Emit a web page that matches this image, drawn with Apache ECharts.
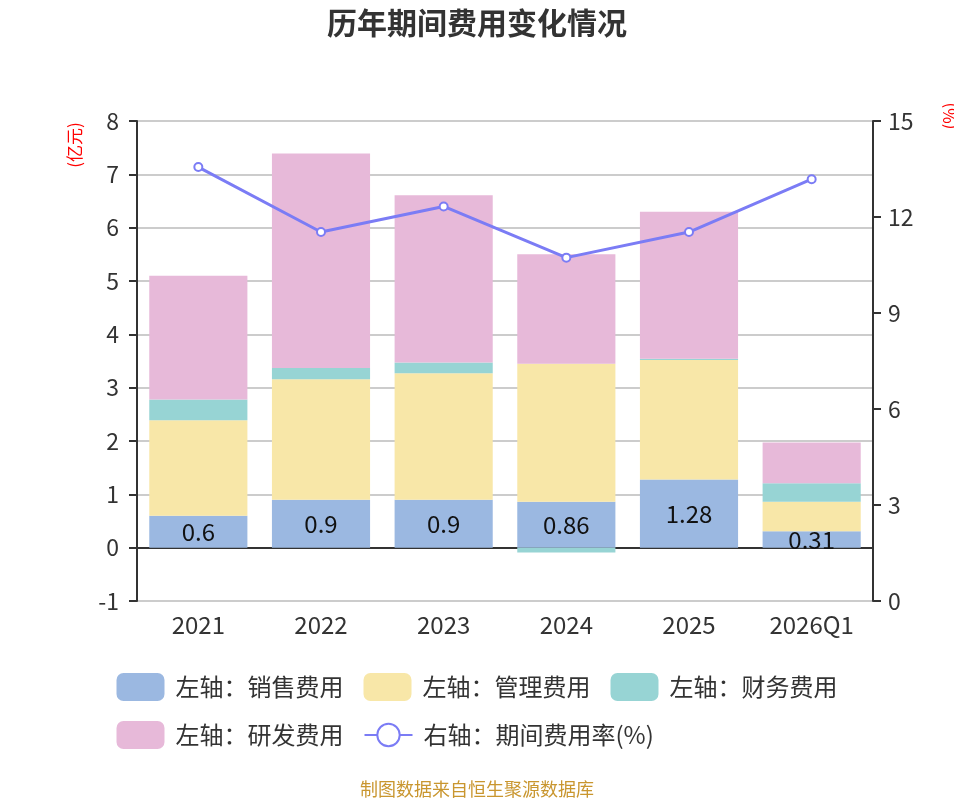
<!DOCTYPE html>
<html>
<head>
<meta charset="utf-8">
<style>
  html, body { margin: 0; padding: 0; background: #fff; }
  #main { width: 954px; height: 800px; }
</style>
<script src="https://cdn.jsdelivr.net/npm/echarts@6/dist/echarts.min.js"></script>
</head>
<body>
<div id="main"></div>
<script>
// 历年期间费用
var categories = ['2021', '2022', '2023', '2024', '2025', '2026Q1'];
var salesCost = [0.6, 0.9, 0.9, 0.86, 1.28, 0.31];
var manageCost = [1.79, 2.26, 2.37, 2.59, 2.24, 0.55];
var financeCost = [0.39, 0.21, 0.2, -0.09, 0.02, 0.35];
var rdCost = [2.32, 4.02, 3.14, 2.05, 2.76, 0.76];
var expenseRate = [13.56, 11.53, 12.33, 10.73, 11.53, 13.18];

var font = "'Noto Sans CJK SC', 'Noto Sans', sans-serif";
var colors = ['#9BB8E1', '#F8E7A8', '#97D4D4', '#E7B9D9', '#7B7CF5'];

var myChart = echarts.init(document.getElementById('main'));

function barSeries(name, data, idx) {
  return {
    name: name,
    type: 'bar',
    stack: 'cost',
    yAxisIndex: 0,
    barWidth: '80%',
    itemStyle: { color: colors[idx] },
    data: data
  };
}

var sales = barSeries('左轴：销售费用', salesCost, 0);
sales.label = {
  show: true,
  position: 'inside',
  color: '#111',
  fontSize: 24,
  fontFamily: font
};

myChart.setOption({
  animation: false,
  textStyle: { fontFamily: font },
  title: {
    text: '历年期间费用变化情况',
    left: 'center',
    top: 3,
    textStyle: { fontSize: 30, fontWeight: 'bold', color: '#333', fontFamily: font }
  },
  legend: {
    top: 668,
    left: 'center',
    width: 740,
    itemWidth: 48,
    itemHeight: 28,
    itemGap: 20,
    textStyle: { fontSize: 24, color: '#333', fontFamily: font, padding: [0, 0, 0, 6] },
    data: ['左轴：销售费用', '左轴：管理费用', '左轴：财务费用', '左轴：研发费用', '右轴：期间费用率(%)']
  },
  grid: { left: 137, right: 81, top: 121, bottom: 199 },
  xAxis: {
    type: 'category',
    data: categories,
    axisLine: { onZero: true, lineStyle: { color: '#333', width: 2 } },
    axisTick: { length: 8, lineStyle: { color: '#333', width: 2 } },
    axisLabel: { margin: 12, fontSize: 24, color: '#333' }
  },
  yAxis: [{
    type: 'value',
    min: -1,
    max: 8,
    interval: 1,
    axisLine: { show: true, lineStyle: { color: '#333', width: 2 } },
    axisTick: { show: true, length: 8, lineStyle: { color: '#333', width: 2 } },
    axisLabel: { margin: 18, fontSize: 23, color: '#333' },
    splitLine: { lineStyle: { color: '#ccc', width: 2 } }
  }, {
    type: 'value',
    min: 0,
    max: 15,
    interval: 3,
    axisLine: { show: true, lineStyle: { color: '#333', width: 2 } },
    axisTick: { show: true, length: 8, lineStyle: { color: '#333', width: 2 } },
    axisLabel: { margin: 15, fontSize: 23, color: '#333' },
    splitLine: { show: false }
  }],
  graphic: [{
    type: 'text',
    x: 75,
    y: 145,
    rotation: Math.PI / 2,
    style: { text: '(亿元)', fill: '#f00', fontSize: 17, fontFamily: font, align: 'center', verticalAlign: 'middle' }
  }, {
    type: 'text',
    x: 950,
    y: 116,
    rotation: Math.PI / 2,
    style: { text: '(%)', fill: '#f00', fontSize: 17, fontFamily: font, align: 'center', verticalAlign: 'middle' }
  }, {
    type: 'text',
    x: 477,
    y: 789,
    style: { text: '制图数据来自恒生聚源数据库', fill: '#C9962F', fontSize: 18, fontFamily: font, align: 'center', verticalAlign: 'middle' }
  }],
  series: [
    sales,
    barSeries('左轴：管理费用', manageCost, 1),
    barSeries('左轴：财务费用', financeCost, 2),
    barSeries('左轴：研发费用', rdCost, 3),
    {
      name: '右轴：期间费用率(%)',
      type: 'line',
      yAxisIndex: 1,
      symbol: 'emptyCircle',
      symbolSize: 8,
      z: 5,
      lineStyle: { color: colors[4], width: 3 },
      itemStyle: { color: colors[4], borderWidth: 2 },
      data: expenseRate
    }
  ]
});
</script>
</body>
</html>
